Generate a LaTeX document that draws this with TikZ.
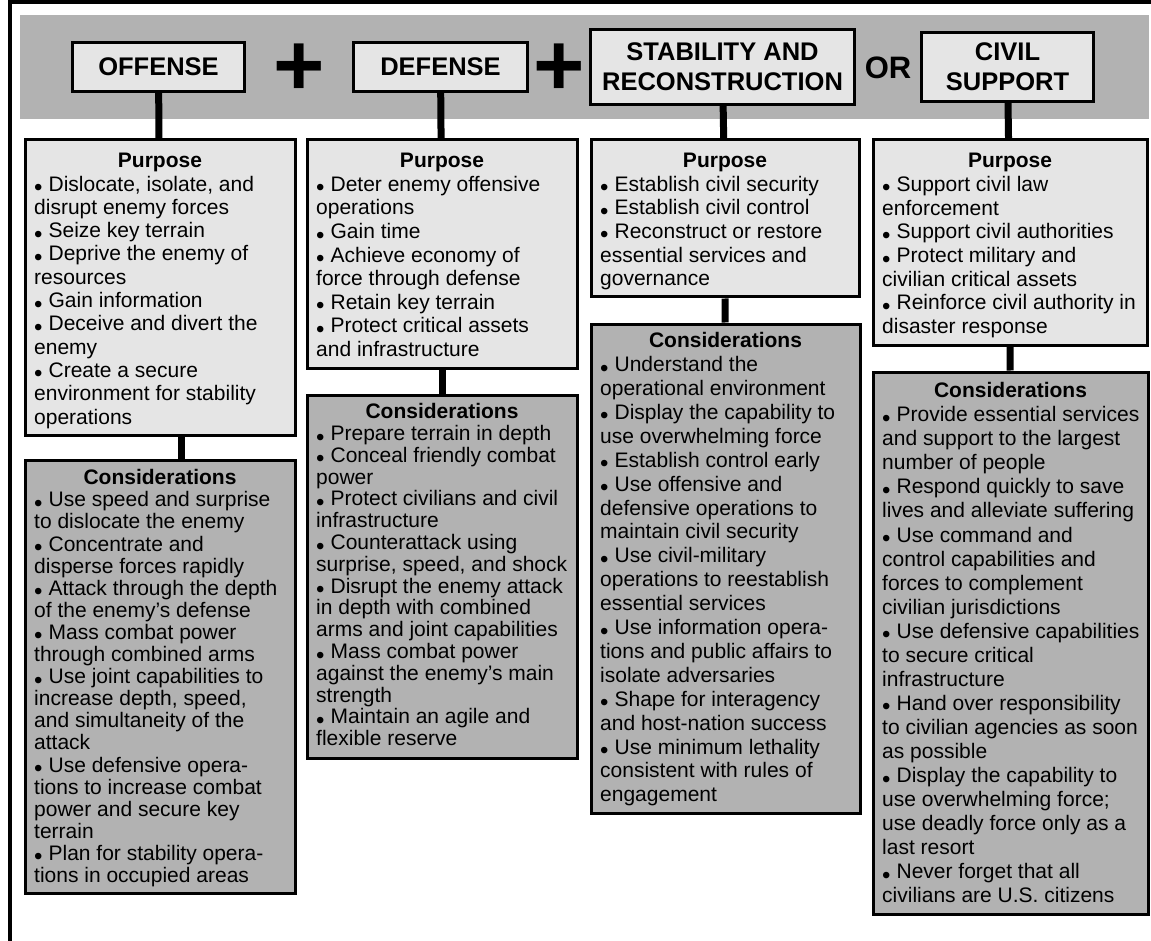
\documentclass[tikz,border=0pt]{standalone}
\usepackage{fontspec}
\setmainfont{Liberation Sans}
\usetikzlibrary{positioning,calc}
\definecolor{bandgray}{gray}{0.70}
\definecolor{boxgray}{gray}{0.90}
\definecolor{consgray}{gray}{0.70}
\newcommand\bul{\raisebox{-4.5pt}{\fontsize{24}{24}\selectfont •}\hspace{6pt}}
\tikzset{
    opbox/.style={draw, line width=3pt, fill=boxgray, align=center, inner sep=0pt, font=\fontsize{25.5}{30}\selectfont\bfseries}, % the four operation boxes
    panel/.style={draw, line width=3pt, anchor=north west, inner sep=0pt},
    purpose/.style={panel, fill=boxgray},
    consider/.style={panel, fill=consgray},
    head/.style={anchor=base, inner sep=0pt, font=\fontsize{21}{24}\selectfont\bfseries},
    body/.style={anchor=north west, inner sep=0pt, align=left, font=\fontsize{21}{#1}\selectfont},
    stem/.style={line width=7pt},
    joiner/.style={inner sep=0pt},
}

\begin{document}
\begin{tikzpicture}[x=1pt, y=-1pt]
    \useasboundingbox (0,0) rectangle (1151,941);
    \draw[line width=3.5pt] (10,941) -- (10,2) -- (1151,2);
    \fill[bandgray] (20,15) rectangle (1149,119);

    % operations
    \node[opbox, minimum width=172, minimum height=49] (off) at (158.5,67) {OFFENSE};
    \node[opbox, minimum width=174, minimum height=49] (def) at (440.5,67) {DEFENSE};
    \node[opbox, minimum width=264, minimum height=75] (stab) at (722.5,67) {STABILITY AND\\RECONSTRUCTION};
    \node[opbox, minimum width=172, minimum height=69] (civ) at (1007.5,67) {CIVIL\\SUPPORT};
    \node[joiner, font=\fontsize{88}{88}\selectfont\bfseries] (plusA) at (299,70) {+};
    \node[joiner, font=\fontsize{88}{88}\selectfont\bfseries] (plusB) at (559,70) {+};
    \node[joiner, font=\fontsize{31}{31}\selectfont\bfseries] (or) at (888,68) {OR};

    % purpose panels
    \node[purpose, minimum width=270, minimum height=295] (offP) at (23.5,138.5) {};
    \node[purpose, minimum width=270, minimum height=228] (defP) at (305.5,138.5) {};
    \node[purpose, minimum width=268, minimum height=157] (stabP) at (589.5,138.5) {};
    \node[purpose, minimum width=274, minimum height=205] (civP) at (871.5,138.5) {};

    % considerations panels
    \node[consider, minimum width=270, minimum height=433] (offC) at (23.5,458.5) {};
    \node[consider, minimum width=270, minimum height=363] (defC) at (305.5,393.5) {};
    \node[consider, minimum width=269, minimum height=489] (stabC) at (589.5,322.5) {};
    \node[consider, minimum width=275, minimum height=542] (civC) at (871.5,370.5) {};

    \draw[stem] (off) -- (offP);
    \draw[stem] (def) -- (defP);
    \draw[stem] (stab) -- (stabP);
    \draw[stem] (civ) -- (civP);
    \draw[stem] ($(offP.south)+(21.5,0)$) -- ($(offC.north)+(21.5,0)$);
    \draw[stem] (defP) -- (defC);
    \draw[stem] (stabP) -- (stabC);
    \draw[stem] (civP) -- (civC);

    % offense
    \node[head] (offPh) at ($(offP.north)+(0,29)$) {Purpose};
    \node[body=23.3] (offPb) at ($(offP.north west)+(10.5,36.3)$) {\rule{0pt}{16pt}\bul Dislocate, isolate, and\\disrupt enemy forces\\\bul Seize key terrain\\\bul Deprive the enemy of\\resources\\\bul Gain information\\\bul Deceive and divert the\\enemy\\\bul Create a secure\\environment for stability\\operations};
    \node[head] (offCh) at ($(offC.north)+(0,26)$) {Considerations};
    \node[body=22.1] (offCb) at ($(offC.north west)+(10.5,32.1)$) {\rule{0pt}{16pt}\bul Use speed and surprise\\to dislocate the enemy\\\bul Concentrate and\\disperse forces rapidly\\\bul Attack through the depth\\of the enemy’s defense\\\bul Mass combat power\\through combined arms\\\bul Use joint capabilities to\\increase depth, speed,\\and simultaneity of the\\attack\\\bul Use defensive opera-\\tions to increase combat\\power and secure key\\terrain\\\bul Plan for stability opera-\\tions in occupied areas};

    % defense
    \node[head] (defPh) at ($(defP.north)+(0,29)$) {Purpose};
    \node[body=23.6] (defPb) at ($(defP.north west)+(10.5,36.6)$) {\rule{0pt}{16pt}\bul Deter enemy offensive\\operations\\\bul Gain time\\\bul Achieve economy of\\force through defense\\\bul Retain key terrain\\\bul Protect critical assets\\and infrastructure};
    \node[head] (defCh) at ($(defC.north)+(0,25)$) {Considerations};
    \node[body=21.8] (defCb) at ($(defC.north west)+(10.5,30.8)$) {\rule{0pt}{16pt}\bul Prepare terrain in depth\\\bul Conceal friendly combat\\power\\\bul Protect civilians and civil\\infrastructure\\\bul Counterattack using\\surprise, speed, and shock\\\bul Disrupt the enemy attack\\in depth with combined\\arms and joint capabilities\\\bul Mass combat power\\against the enemy’s main\\strength\\\bul Maintain an agile and\\flexible reserve};

    % stability and reconstruction
    \node[head] (stabPh) at ($(stabP.north)+(0,29)$) {Purpose};
    \node[body=23.6] (stabPb) at ($(stabP.north west)+(10.5,36.6)$) {\rule{0pt}{16pt}\bul Establish civil security\\\bul Establish civil control\\\bul Reconstruct or restore\\essential services and\\governance};
    \node[head] (stabCh) at ($(stabC.north)+(0,25)$) {Considerations};
    \node[body=23.9] (stabCb) at ($(stabC.north west)+(10.5,32.9)$) {\rule{0pt}{16pt}\bul Understand the\\operational environment\\\bul Display the capability to\\use overwhelming force\\\bul Establish control early\\\bul Use offensive and\\defensive operations to\\maintain civil security\\\bul Use civil-military\\operations to reestablish\\essential services\\\bul Use information opera-\\tions and public affairs to\\isolate adversaries\\\bul Shape for interagency\\and host-nation success\\\bul Use minimum lethality\\consistent with rules of\\engagement};

    % civil support
    \node[head] (civPh) at ($(civP.north)+(0,29)$) {Purpose};
    \node[body=23.7] (civPb) at ($(civP.north west)+(10.5,36.7)$) {\rule{0pt}{16pt}\bul Support civil law\\enforcement\\\bul Support civil authorities\\\bul Protect military and\\civilian critical assets\\\bul Reinforce civil authority in\\disaster response};
    \node[head] (civCh) at ($(civC.north)+(0,27)$) {Considerations};
    \node[body=24.05] (civCb) at ($(civC.north west)+(10.5,35.05)$) {\rule{0pt}{16pt}\bul Provide essential services\\and support to the largest\\number of people\\\bul Respond quickly to save\\lives and alleviate suffering\\\bul Use command and\\control capabilities and\\forces to complement\\civilian jurisdictions\\\bul Use defensive capabilities\\to secure critical\\infrastructure\\\bul Hand over responsibility\\to civilian agencies as soon\\as possible\\\bul Display the capability to\\use overwhelming force;\\use deadly force only as a\\last resort\\\bul Never forget that all\\civilians are U.S. citizens};
\end{tikzpicture}
\end{document}
